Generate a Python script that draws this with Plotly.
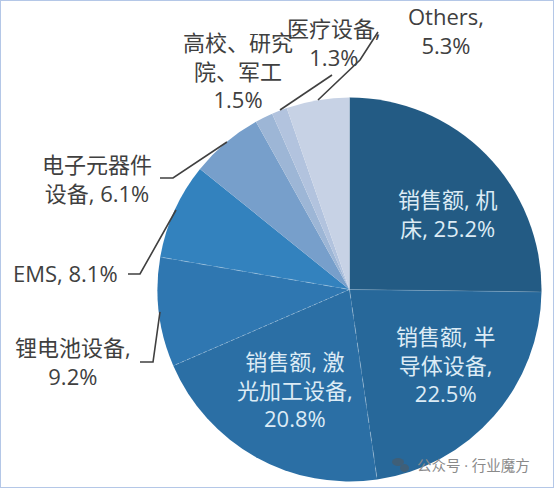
import math
import plotly.graph_objects as go

W, H = 554, 488
CX, CY, R = 349.5, 289.5, 192

categories = ['销售额, 机床', '销售额, 半导体设备', '销售额, 激光加工设备', '锂电池设备', 'EMS',
              '电子元器件设备', '高校、研究院、军工', '医疗设备', 'Others']
values = [25.2, 22.5, 20.8, 9.2, 8.1, 6.1, 1.5, 1.3, 5.3]
colors = ['#235B84', '#27689A', '#2B6FA5', '#2F77B1', '#3382BE',
          '#779FCB', '#9DB6D6', '#B2C3DE', '#C7D2E5']
FONT = 'Open Sans, Noto Sans CJK SC, sans-serif'

# label text and where it goes on the page (pixels from top left)
labels = [
    ('销售额, 机<br>床, 25.2%', 447, 213, '#DCEBF5'),
    ('销售额, 半<br>导体设备,<br>22.5%', 445, 364, '#DCEBF5'),
    ('销售额, 激<br>光加工设备,<br>20.8%', 295, 389, '#DCEBF5'),
    ('锂电池设备,<br>9.2%', 73, 361, '#404040'),
    ('EMS, 8.1%', 65, 273, '#404040'),
    ('电子元器件<br>设备, 6.1%', 97, 178, '#404040'),
    ('高校、研究<br>院、军工<br>1.5%', 238, 71, '#404040'),
    ('医疗设备,<br>1.3%', 334, 42, '#404040'),
    ('Others,<br>5.3%', 446, 30, '#404040'),
]

# leader lines, pixels
leaders = [
    [(140, 362), (153, 362), (160, 312)],
    [(128, 274), (140, 274), (176, 210)],
    [(160, 178), (173, 178), (227, 142)],
    [(280, 110), (332, 75)],
    [(318, 100), (360, 60), (378, 32)],
]


def px(x):
    return x / W


def py(y):
    return 1 - y / H


def edge(pct_sum, r=R):
    a = 2 * math.pi * pct_sum / 100
    return CX + r * math.sin(a), CY - r * math.cos(a)


fig = go.Figure(go.Pie(
    labels=categories, values=values, sort=False, direction='clockwise', rotation=0,
    marker=dict(colors=colors, line=dict(width=0)),
    textinfo='none', hoverinfo='label+percent', showlegend=False,
    domain=dict(x=[px(CX - R), px(CX + R)], y=[py(CY + R), py(CY - R)]),
))

shapes = []
for pts in leaders:
    path = 'M ' + ' L '.join(f'{px(x):.4f},{py(y):.4f}' for x, y in pts)
    shapes.append(dict(type='path', path=path, xref='paper', yref='paper',
                       line=dict(color='#404040', width=1.6)))

# pale dashed seams between the blue slices
seams = [(25.2, 'solid', 0.15), (47.7, 'dash', 0.3), (68.5, 'dot', 0.3), (77.7, 'dash', 0.3)]
for pct, dash, op in seams:
    x1, y1 = edge(pct)
    shapes.append(dict(type='line', xref='paper', yref='paper',
                       x0=px(CX), y0=py(CY), x1=px(x1), y1=py(y1),
                       line=dict(color='white', width=1, dash=dash), opacity=op))

# image frame
shapes.append(dict(type='rect', xref='paper', yref='paper', x0=0, y0=0, x1=1, y1=1,
                   line=dict(color='#B4C7E7', width=2)))

# wechat icon of the watermark
shapes.append(dict(type='circle', xref='paper', yref='paper', x0=px(392), x1=px(404),
                   y0=py(466), y1=py(458), fillcolor='#3F5F78', line=dict(width=0)))
shapes.append(dict(type='circle', xref='paper', yref='paper', x0=px(400), x1=px(409),
                   y0=py(472), y1=py(464), fillcolor='#3F5F78', line=dict(width=0)))

annotations = []
for text, x, y, col in labels:
    annotations.append(dict(text=text, x=px(x), y=py(y), xref='paper', yref='paper',
                            xanchor='center', yanchor='middle', showarrow=False, align='center',
                            font=dict(family=FONT, size=22, color=col)))
annotations.append(dict(text='公众号 · 行业魔方', x=px(474), y=py(465), xref='paper', yref='paper',
                        xanchor='center', yanchor='middle', showarrow=False,
                        font=dict(family=FONT, size=14.5, color='#8A8A8A')))

fig.update_layout(width=W, height=H, margin=dict(l=0, r=0, t=0, b=0),
                  paper_bgcolor='white', shapes=shapes, annotations=annotations)
# page body has a default margin that would push the figure off the window
fig.write_html("out.html", config=dict(displayModeBar=False),
               post_script="document.body.style.margin='0';")
